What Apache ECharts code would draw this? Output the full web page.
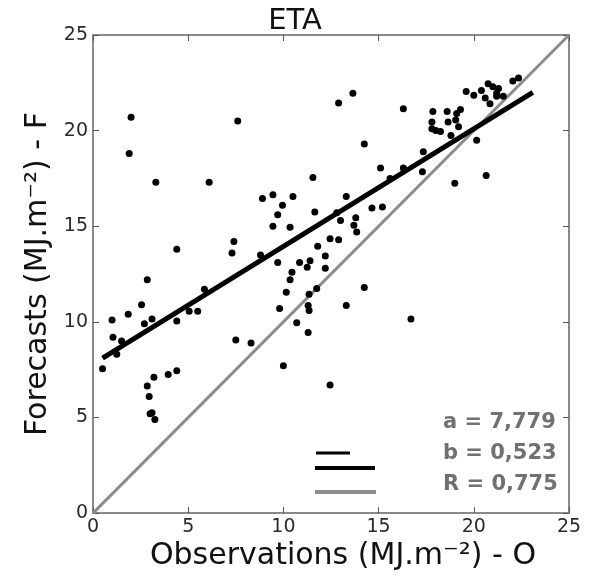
<!DOCTYPE html>
<html>
<head>
<meta charset="utf-8">
<script src="https://cdn.jsdelivr.net/npm/echarts@6/dist/echarts.min.js"></script>
<style>html,body{margin:0;padding:0;background:#fff}#c{width:590px;height:576px}</style>
</head>
<body>
<div id="c"></div>
<script>
const titleText = 'ETA';
const xName = 'Observations (MJ.m\u207B\u00B2) - O';
const yName = 'Forecasts (MJ.m\u207B\u00B2) - F';
const xTicks = [0, 5, 10, 15, 20, 25];
const yTicks = [0, 5, 10, 15, 20, 25];
const obs = [2.0,7.6,1.9,3.3,6.1,7.4,7.3,4.4,2.85,5.85,2.55,1.85,1.0,2.7,3.1,4.4,5.05,5.5,1.05,1.5,1.25,0.5,7.5,8.3,3.2,3.95,4.4,2.85,2.95,3.0,3.1,3.25,
12.9,16.3,14.25,15.1,16.3,15.6,11.55,8.9,9.45,10.5,9.95,9.7,9.45,10.35,11.65,13.3,12.8,13.0,14.65,15.2,13.8,13.7,13.85,12.45,12.9,11.8,12.2,8.8,9.7,10.85,11.4,11.25,12.2,10.45,10.35,10.15,11.35,11.75,14.25,9.8,11.3,11.35,13.3,16.7,10.7,11.3,10.0,12.45,13.65,
22.35,22.05,20.75,21.0,21.3,20.4,19.6,20.0,21.2,21.2,21.55,20.6,20.85,17.85,18.6,19.3,19.1,17.8,18.65,19.05,19.2,17.8,18.0,18.25,18.8,20.15,17.35,17.3,19.0,20.65];
const fcst = [20.7,20.5,18.8,17.3,17.3,14.2,13.6,13.8,12.2,11.7,10.9,10.4,10.1,9.9,10.15,10.05,10.55,10.55,9.2,9.0,8.3,7.55,9.05,8.9,7.1,7.25,7.45,6.65,6.1,5.2,5.25,4.9,
21.45,21.15,19.3,18.05,18.05,17.5,17.55,16.45,16.65,16.55,16.1,15.6,15.0,14.95,15.75,16.55,15.7,15.3,15.95,16.0,15.45,15.05,14.7,14.35,14.3,13.95,13.45,13.5,13.1,13.1,13.2,12.85,12.8,12.6,12.2,11.55,11.45,11.75,11.8,10.7,10.85,10.6,10.85,10.15,9.95,9.45,7.7,6.7,21.95,
22.75,22.6,22.45,22.3,22.2,22.1,22.05,21.85,21.95,21.8,21.8,21.7,21.4,21.0,21.0,21.1,20.9,20.45,20.45,20.55,20.2,20.1,20.0,19.95,19.75,19.5,18.9,17.85,17.25,17.65];
const fitX = [0.5, 23.1];
const fitY = [8.1, 22.0];
const idX = [0, 25];
const idY = [0, 25];
const statsLines = ['a = 7,779', 'b = 0,523', 'R = 0,775'];

const chart = echarts.init(document.getElementById('c'), null, {renderer: 'canvas'});
const font = 'DejaVu Sans';
function axisBase(extra) {
  return Object.assign({
    type: 'value', min: 0, max: 25, interval: 5,
    axisLine: {show: true, onZero: false, lineStyle: {color: '#8a8a8a', width: 2}},
    axisTick: {show: true, inside: true, length: 6, lineStyle: {color: '#555', width: 1}},
    splitLine: {show: false},
    axisLabel: {fontFamily: font, fontSize: 19, color: '#2a2a2a'},
    nameLocation: 'middle',
    nameTextStyle: {fontFamily: font, fontSize: 30, color: '#111'}
  }, extra);
}
chart.setOption({
  animation: false,
  backgroundColor: '#fff',
  title: {text: titleText, left: 'center', top: 2, textStyle: {fontFamily: font, fontSize: 29, fontWeight: 'normal', color: '#111'}},
  grid: {left: 93, right: 21, top: 35, bottom: 62, containLabel: false},
  xAxis: [
    axisBase({position: 'bottom', name: xName, nameGap: 22,
      nameTextStyle: {fontFamily: font, fontSize: 30, color: '#111', padding: [0, 0, 0, 24]},
      axisLabel: {fontFamily: font, fontSize: 19, color: '#2a2a2a', margin: 4, formatter: v => xTicks.includes(v) ? String(v) : ''}}),
    axisBase({position: 'top', axisLabel: {show: false}})
  ],
  yAxis: [
    axisBase({position: 'left', name: yName, nameGap: 34, nameRotate: 90,
      axisLabel: {fontFamily: font, fontSize: 19, color: '#2a2a2a', margin: 5, formatter: v => yTicks.includes(v) ? String(v) : ''}}),
    axisBase({position: 'right', axisLabel: {show: false}})
  ],
  series: [
    {type: 'line', data: idX.map((x, i) => [x, idY[i]]), symbol: 'none', lineStyle: {color: '#8c8c8c', width: 3}, z: 2},
    {type: 'scatter', data: obs.map((x, i) => [x, fcst[i]]), symbol: 'circle', symbolSize: 7, itemStyle: {color: '#000', opacity: 1}, z: 3},
    {type: 'line', data: fitX.map((x, i) => [x, fitY[i]]), symbol: 'none', lineStyle: {color: '#000', width: 5}, z: 4}
  ],
  graphic: [
    {type: 'line', shape: {x1: 316, y1: 453, x2: 350, y2: 453}, style: {stroke: '#000', lineWidth: 3}},
    {type: 'line', shape: {x1: 315, y1: 468, x2: 375, y2: 468}, style: {stroke: '#000', lineWidth: 4}},
    {type: 'line', shape: {x1: 315, y1: 492, x2: 376, y2: 492}, style: {stroke: '#8c8c8c', lineWidth: 4}},
    {type: 'text', left: 443, top: 412, style: {text: statsLines[0], font: 'bold 21px "DejaVu Sans"', fill: '#707070'}},
    {type: 'text', left: 443, top: 443, style: {text: statsLines[1], font: 'bold 21px "DejaVu Sans"', fill: '#707070'}},
    {type: 'text', left: 443, top: 474, style: {text: statsLines[2], font: 'bold 21px "DejaVu Sans"', fill: '#707070'}}
  ]
});
</script>
</body>
</html>
